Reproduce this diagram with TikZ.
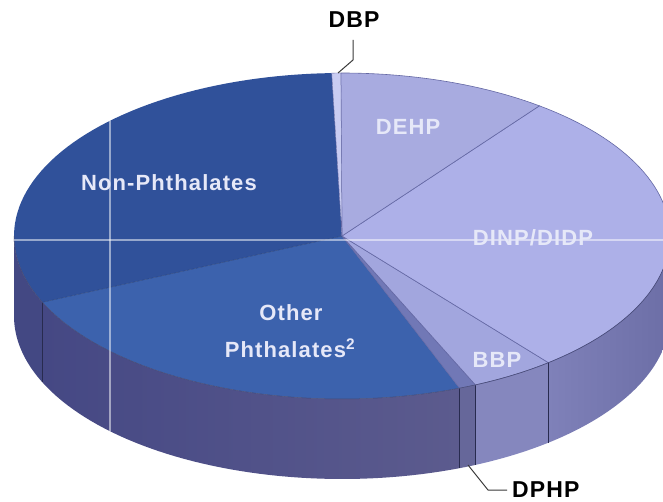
\documentclass[tikz,border=0pt]{standalone}
\usepackage{fontspec}
\setmainfont{Liberation Sans}
\newfontfamily\labfont[LetterSpace=5]{Liberation Sans}
\definecolor{nonTop}{HTML}{30519A}
\definecolor{otherTop}{HTML}{3C62AD}
\definecolor{nonSide}{HTML}{434883}
\definecolor{otherSideL}{HTML}{454884}
\definecolor{otherSideR}{HTML}{5C5B8E}
\definecolor{dbpTop}{HTML}{C9CCF2}
\definecolor{dehpTop}{HTML}{A8ABE0}
\definecolor{dinpTop}{HTML}{ADB0E8}
\definecolor{bbpTop}{HTML}{A2A6DE}
\definecolor{dphpTop}{HTML}{7178B6}
\definecolor{dphpSide}{HTML}{66679A}
\definecolor{bbpSide}{HTML}{8587BE}
\definecolor{dinpSideL}{HTML}{7F81B9}
\definecolor{dinpSideR}{HTML}{6C6EA6}
\definecolor{edgeLine}{HTML}{6468A4}
\definecolor{labText}{HTML}{E6E8F8}
\definecolor{leaderGray}{HTML}{3A3A3A}
\def\PCX{342}
\def\PCY{236}
\def\PRX{328}
\def\PRY{163}
\def\PDD{80}
% side patch: #1 style, #2 start angle, #3 end angle
\newcommand\piesidepatch[3]{%
  \path[#1] plot[domain=#2:#3,samples=50] ({\PCX+\PRX*cos(\x)},{\PCY-\PRY*sin(\x)})
    -- plot[domain=#3:#2,samples=50] ({\PCX+\PRX*cos(\x)},{\PCY+\PDD-\PRY*sin(\x)}) -- cycle;}
% top slice: #1 style, #2 start angle, #3 end angle
\newcommand\pietopslice[3]{%
  \path[#1] (\PCX,\PCY) -- plot[domain=#2:#3,samples=60] ({\PCX+\PRX*cos(\x)},{\PCY-\PRY*sin(\x)}) -- cycle;}
\tikzset{
  lab/.style={text=labText, font=\labfont\fontsize{22}{26}\selectfont\bfseries, inner sep=0pt},
  blacklab/.style={text=black, font=\labfont\fontsize{23}{27}\selectfont\bfseries, inner sep=0pt},
  leader/.style={draw=leaderGray, line width=1pt},
  sideline/.style={draw=black!40!nonSide, line width=0.6pt},
}
\begin{document}
\begin{tikzpicture}[x=1pt,y=-1pt]
\useasboundingbox (0,0) rectangle (663,502);
\fill[white] (0,0) rectangle (663,502);
% sides
\piesidepatch{fill=nonSide}{180}{204}
\piesidepatch{left color=otherSideL,right color=otherSideR}{204}{291}
\piesidepatch{fill=dphpSide}{291}{294}
\piesidepatch{fill=bbpSide}{294}{309}
\piesidepatch{left color=dinpSideL,right color=dinpSideR}{309}{360}
% side boundary lines
\foreach \a in {204,291,294,309}{
  \draw[sideline] ({\PCX+\PRX*cos(\a)},{\PCY-\PRY*sin(\a)}) -- ++(0,\PDD);
}
% top slices
\pietopslice{fill=nonTop}{91.8}{204}
\pietopslice{fill=otherTop}{204}{291}
\pietopslice{fill=dphpTop,draw=edgeLine,line width=0.5pt}{291}{294}
\pietopslice{fill=bbpTop,draw=edgeLine,line width=0.6pt}{294}{309}
\pietopslice{fill=dinpTop,draw=edgeLine,line width=0.6pt}{-51}{53}
\pietopslice{fill=dehpTop,draw=edgeLine,line width=0.6pt}{53}{90.2}
\pietopslice{fill=dbpTop,draw=edgeLine,line width=0.4pt}{90.2}{91.8}
\draw[nonTop!80!black, line width=0.4pt] (\PCX,\PCY) -- ({\PCX+\PRX*cos(204)},{\PCY-\PRY*sin(204)});
% rim between top and side
\draw[edgeLine!70!black, line width=0.5pt] plot[domain=180:360,samples=80] ({\PCX+\PRX*cos(\x)},{\PCY-\PRY*sin(\x)});
% faint scan lines
\begin{scope}
  \clip plot[domain=0:180,samples=80] ({\PCX+\PRX*cos(\x)},{\PCY-\PRY*sin(\x)})
    -- plot[domain=180:360,samples=80] ({\PCX+\PRX*cos(\x)},{\PCY+\PDD-\PRY*sin(\x)}) -- cycle;
  \draw[white, opacity=0.5, line width=1.4pt] (0,240) -- (663,240);
  \draw[white, opacity=0.5, line width=1.4pt] (110,0) -- (110,502);
\end{scope}
% labels on slices
\node[lab] (nonlab) at (169,183) {Non-Phthalates};
\node[lab] (dehplab) at (408,127) {DEHP};
\node[lab] (dinplab) at (533,238) {DINP/DIDP};
\node[lab] (bbplab) at (497,360) {BBP};
\node[lab] (otherlab) at (291,313) {Other};
\node[lab] (phthlab) at (290,348) {Phthalates\textsuperscript{2}};
% outside labels with leaders
\node[blacklab] (dbp) at (354,20) {DBP};
\coordinate (dbpBend) at (353,60);
\coordinate (dbpEdge) at (338,73);
\draw[leader] (353,40) -- (dbpBend) -- (dbpEdge);
\node[blacklab, anchor=west] (dphp) at (512,490) {DPHP};
\coordinate (dphpEdge) at (468,465);
\coordinate (dphpBend) at (488,490);
\draw[leader] (dphpEdge) -- (dphpBend) -- ([xshift=-5pt]dphp.west);
\end{tikzpicture}
\end{document}
